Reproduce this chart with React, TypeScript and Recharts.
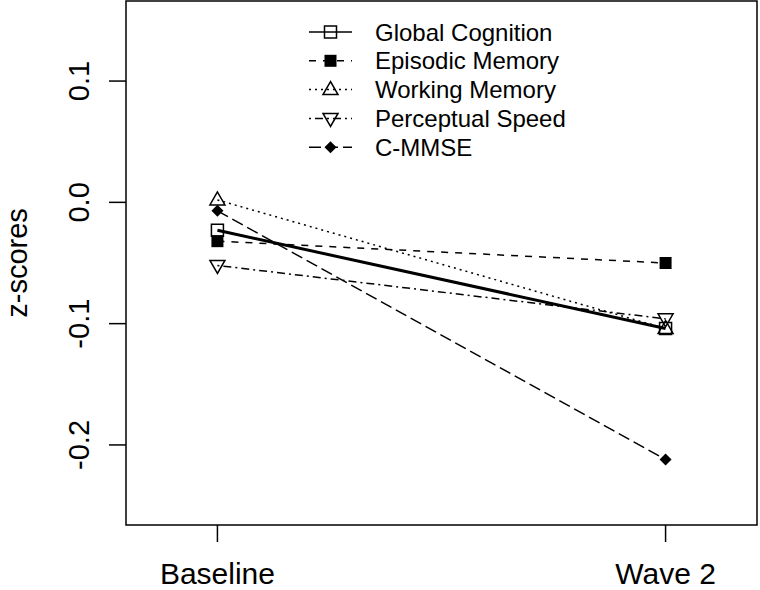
import React from 'react';
import { LineChart, Line, XAxis, YAxis, ReferenceArea } from 'recharts';

// data
const waves = ['Baseline', 'Wave 2'];
const globalCognition = [-0.023, -0.104];
const episodicMemory = [-0.032, -0.05];
const workingMemory = [0.002, -0.104];
const perceptualSpeed = [-0.052, -0.096];
const cmmse = [-0.007, -0.212];
const yTicks = [-0.2, -0.1, 0.0, 0.1];

const X_DOMAIN = [0.796, 2.204];
const Y_DOMAIN = [-0.266, 0.166];
const FONT = 'Liberation Sans, Arial, sans-serif';

const data = waves.map((w, i) => ({
  x: i + 1,
  gc: globalCognition[i],
  em: episodicMemory[i],
  wm: workingMemory[i],
  ps: perceptualSpeed[i],
  mm: cmmse[i],
}));

type Marker = 'openSquare' | 'filledSquare' | 'triUp' | 'triDown' | 'diamond';

const series: { key: string; name: string; dash?: string; width: number; marker: Marker }[] = [
  { key: 'gc', name: 'Global Cognition', width: 3, marker: 'openSquare' },
  { key: 'em', name: 'Episodic Memory', dash: '7 7', width: 1.5, marker: 'filledSquare' },
  { key: 'wm', name: 'Working Memory', dash: '2 4', width: 1.5, marker: 'triUp' },
  { key: 'ps', name: 'Perceptual Speed', dash: '2 4 8 4', width: 1.5, marker: 'triDown' },
  { key: 'mm', name: 'C-MMSE', dash: '12 5', width: 1.5, marker: 'diamond' },
];

const drawMarker = (m: Marker, cx: number, cy: number, k?: string) => {
  switch (m) {
    case 'openSquare':
      return <rect key={k} x={cx - 6} y={cy - 6} width={12} height={12} fill="none" stroke="#000" strokeWidth={1.5} />;
    case 'filledSquare':
      return <rect key={k} x={cx - 6} y={cy - 6} width={12} height={12} fill="#000" stroke="none" />;
    case 'triUp':
      return (
        <polygon key={k} points={`${cx},${cy - 8} ${cx - 7.5},${cy + 5} ${cx + 7.5},${cy + 5}`}
          fill="none" stroke="#000" strokeWidth={1.5} />
      );
    case 'triDown':
      return (
        <polygon key={k} points={`${cx},${cy + 8} ${cx - 7.5},${cy - 5} ${cx + 7.5},${cy - 5}`}
          fill="none" stroke="#000" strokeWidth={1.5} />
      );
    default:
      return (
        <polygon key={k} points={`${cx},${cy - 6} ${cx + 6},${cy} ${cx},${cy + 6} ${cx - 6},${cy}`}
          fill="#000" stroke="none" />
      );
  }
};

const YTick = (props: any) => {
  const { y, payload } = props;
  const x = 89;
  return (
    <text x={x} y={y} transform={`rotate(-90, ${x}, ${y})`} textAnchor="middle"
      fontFamily={FONT} fontSize={29} fill="#000">
      {Number(payload.value).toFixed(1)}
    </text>
  );
};

const XTick = (props: any) => {
  const { x, payload } = props;
  return (
    <text x={x} y={584} textAnchor="middle" fontFamily={FONT} fontSize={30} fill="#000">
      {waves[payload.value - 1]}
    </text>
  );
};

const LegendBox = () => (
  <svg width={300} height={160} style={{ position: 'absolute', left: 300, top: 10 }}>
    {series.map((s, i) => {
      const cy = 22 + i * 28.8;
      return (
        <g key={s.key}>
          <line x1={9} x2={52} y1={cy} y2={cy} stroke="#000" strokeWidth={1.5}
            strokeDasharray={s.dash} />
          {drawMarker(s.marker, 30.5, cy)}
          <text x={75} y={cy + 8.5} fontFamily={FONT} fontSize={24} fill="#000">{s.name}</text>
        </g>
      );
    })}
  </svg>
);

export default function App() {
  return (
    <div style={{ position: 'absolute', left: 0, top: 0, width: 760, height: 590, background: '#fff' }}>
      <LineChart width={760} height={590} data={data} margin={{ top: 1, right: 3, bottom: 0, left: 0 }}>
        <XAxis type="number" dataKey="x" domain={X_DOMAIN} ticks={[1, 2]} height={65}
          axisLine={false} tickSize={17} tickLine={{ stroke: '#000', strokeWidth: 1.5 }}
          tick={<XTick />} allowDataOverflow />
        <YAxis type="number" domain={Y_DOMAIN} ticks={yTicks} width={126}
          axisLine={false} tickSize={17} tickLine={{ stroke: '#000', strokeWidth: 1.5 }}
          tick={<YTick />} allowDataOverflow
          label={{
            content: () => (
              <text x={27} y={263} transform="rotate(-90, 27, 263)" textAnchor="middle"
                fontFamily={FONT} fontSize={29} fill="#000">z-scores</text>
            ),
          }} />
        <ReferenceArea x1={X_DOMAIN[0]} x2={X_DOMAIN[1]} y1={Y_DOMAIN[0]} y2={Y_DOMAIN[1]}
          fill="none" stroke="#000" strokeWidth={1.5} fillOpacity={0} ifOverflow="visible" />
        {series.map((s) => (
          <Line key={s.key} dataKey={s.key} name={s.name} type="linear" stroke="#000"
            strokeWidth={s.width} strokeDasharray={s.dash} isAnimationActive={false}
            dot={(p: any) => drawMarker(s.marker, p.cx, p.cy, `${s.key}-${p.index}`)}
            activeDot={false} />
        ))}
      </LineChart>
      <LegendBox />
    </div>
  );
}
